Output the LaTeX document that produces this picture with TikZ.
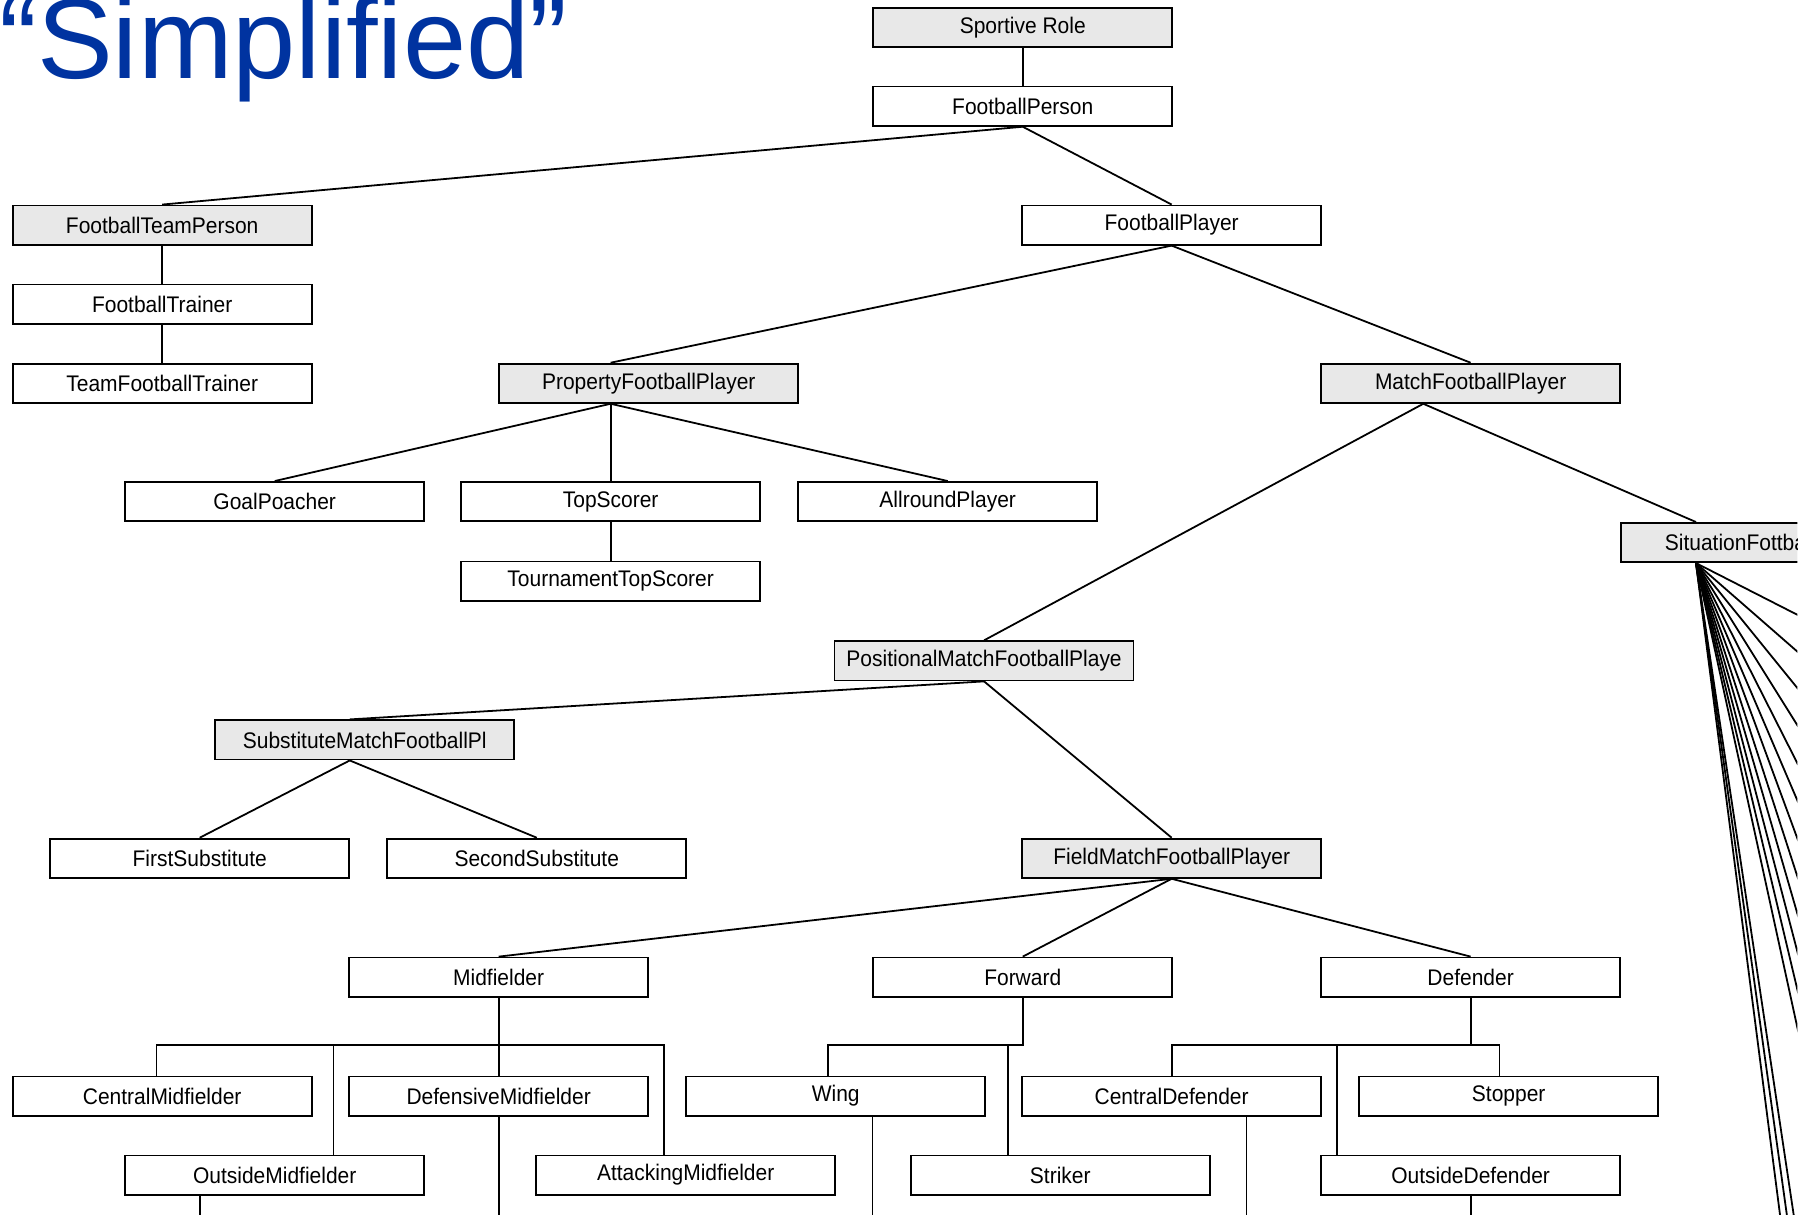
\documentclass[tikz,border=0pt]{standalone}
\usepackage{fontspec}
\setmainfont{Liberation Sans}[FakeStretch=0.93]
\newfontfamily\titlefont{Liberation Sans}
\usetikzlibrary{calc}
\definecolor{titleblue}{RGB}{0,51,160}
\definecolor{boxgray}{RGB}{232,232,232}
\begin{document}
\begin{tikzpicture}[x=0.025cm,y=-0.025cm,
  box/.style={draw=black, line width=1.1pt, minimum width=6.475cm, minimum height=0.85cm,
    inner sep=0pt, fill=white, font=\fontsize{13.9}{16}\selectfont},
  gbox/.style={box, fill=boxgray},
  link/.style={line width=1.1pt},
  thinlink/.style={line width=0.75pt}]
\useasboundingbox (0,0) rectangle (1568,1052);
\begin{scope}
\clip (0,0) rectangle (1557,1052);

% title
\node[anchor=base west, inner sep=0pt, text=titleblue,
  font=\titlefont\fontsize{70}{72}\selectfont] (title) at (-1,68) {“Simplified”};

% class boxes
\node[gbox] (sr)   at (886,24)     {Sportive Role};
\node[box]  (fp)   at (886,92)     {FootballPerson};
\node[gbox] (ftp)  at (140.5,195)  {FootballTeamPerson};
\node[box]  (fpl)  at (1015,195)   {FootballPlayer};
\node[box]  (ftr)  at (140.5,263.5){FootballTrainer};
\node[box]  (tft)  at (140.5,332)  {TeamFootballTrainer};
\node[gbox] (pfp)  at (562,332)    {PropertyFootballPlayer};
\node[gbox] (mfp)  at (1274,332)   {MatchFootballPlayer};
\node[box]  (gp)   at (238,434.5)  {GoalPoacher};
\node[box]  (ts)   at (529,434.5)  {TopScorer};
\node[box]  (ap)   at (821,434.5)  {AllroundPlayer};
\node[box]  (tts)  at (529,503.5)  {TournamentTopScorer};
\node[gbox] (sit)  at (1533.5,470) {};
\node[anchor=west, inner sep=0pt, font=\fontsize{13.9}{16}\selectfont] (sittext) at (1442,470) {SituationFottba};
\node[gbox] (pos)  at (852.5,572.5){PositionalMatchFootballPlaye};
\node[gbox] (sub)  at (316,641)    {SubstituteMatchFootballPl};
\node[box]  (fs)   at (173,743.5)  {FirstSubstitute};
\node[box]  (ss)   at (465,743.5)  {SecondSubstitute};
\node[gbox] (fm)   at (1015,743.5) {FieldMatchFootballPlayer};
\node[box]  (mid)  at (432,846.5)  {Midfielder};
\node[box]  (fw)   at (886,846.5)  {Forward};
\node[box]  (def)  at (1274,846.5) {Defender};
\node[box]  (cm)   at (140.5,949.5){CentralMidfielder};
\node[box]  (dm)   at (432,949.5)  {DefensiveMidfielder};
\node[box]  (wing) at (724,949.5)  {Wing};
\node[box]  (cd)   at (1015,949.5) {CentralDefender};
\node[box]  (stop) at (1307,949.5) {Stopper};
\node[box]  (om)   at (238,1018)   {OutsideMidfielder};
\node[box]  (am)   at (594,1018)   {AttackingMidfielder};
\node[box]  (str)  at (918.5,1018) {Striker};
\node[box]  (od)   at (1274,1018)  {OutsideDefender};

% attachment points that sit off the box centres
\coordinate (pfptop) at (pfp.north -| ts.north);
\coordinate (pfpbot) at (pfp.south -| ts.north);
\coordinate (mfpbot) at ($(mfp.south)+(-41,0)$);
\coordinate (sittop) at ($(sit.north west)+(66,0)$);
\coordinate (sitbot) at ($(sit.south west)+(66,0)$);
\coordinate (subtop) at ($(sub.north)+(-13,0)$);
\coordinate (subbot) at ($(sub.south)+(-13,0)$);

% tree links
\draw[link] (sr.south) -- (fp.north);
\draw[link] (fp.south) -- (ftp.north);
\draw[link] (fp.south) -- (fpl.north);
\draw[link] (ftp.south) -- (ftr.north);
\draw[link] (ftr.south) -- (tft.north);
\draw[link] (fpl.south) -- (pfptop);
\draw[link] (fpl.south) -- (mfp.north);
\draw[link] (pfpbot) -- (gp.north);
\draw[link] (pfpbot) -- (ts.north);
\draw[link] (pfpbot) -- (ap.north);
\draw[link] (ts.south) -- (tts.north);
\draw[link] (mfpbot) -- (pos.north);
\draw[link] (mfpbot) -- (sittop);
\draw[link] (pos.south) -- (subtop);
\draw[link] (pos.south) -- (fm.north);
\draw[link] (subbot) -- (fs.north);
\draw[link] (subbot) -- (ss.north);
\draw[link] (fm.south) -- (mid.north);
\draw[link] (fm.south) -- (fw.north);
\draw[link] (fm.south) -- (def.north);

% orthogonal buses below the position groups
\coordinate (mbus) at (433,905);
\coordinate (fbus) at (886,905);
\coordinate (dbus) at (1275,905);
\coordinate (cmtop)   at ($(cm.north)+(-5,0)$);
\coordinate (omtop)   at ($(om.north)+(51,0)$);
\coordinate (amtop)   at ($(am.north)+(-19,0)$);
\coordinate (wingtop) at ($(wing.north)+(-7,0)$);
\coordinate (strtop)  at ($(str.north)+(-45,0)$);
\coordinate (odtop)   at ($(od.north)+(-116,0)$);
\coordinate (stoptop) at ($(stop.north)+(-8,0)$);

\draw[link] (mid.south) -- (mid.south |- mbus);
\draw[link] (cmtop) |- (mbus) -| (amtop);
\draw[link] (omtop) -- (omtop |- mbus);
\draw[link] (dm.north) -- (dm.north |- mbus);

\draw[link] (fw.south) |- (wingtop |- fbus) -- (wingtop);
\draw[link] (strtop) -- (strtop |- fbus);

\draw[link] (def.south) -- (def.south |- dbus);
\draw[link] (cd.north) |- (dbus) -| (stoptop);
\draw[link] (odtop) -- (odtop |- dbus);

% links running on past the lower edge
\coordinate (edge) at (0,1060);
\coordinate (omb)   at ($(om.south)+(-65,0)$);
\coordinate (wingb) at ($(wing.south)+(32,0)$);
\coordinate (cdb)   at ($(cd.south)+(65,0)$);
\draw[link] (omb) -- (omb |- edge);
\draw[link] (dm.south) -- (dm.south |- edge);
\draw[thinlink] (wingb) -- (wingb |- edge);
\draw[thinlink] (cdb) -- (cdb |- edge);
\draw[link] (od.south) -- (od.south |- edge);

% fan of situation sub-roles, leaving the page on the right and at the foot
\foreach \yy [count=\i] in {554.5,602,649,697,746,794,843,892,940,989,1038,1087}{
  \coordinate (fanr\i) at (1600,\yy);
  \draw[link] (sitbot) -- (fanr\i);
}
\foreach \xx [count=\i] in {1555,1549,1543}{
  \coordinate (fanb\i) at (\xx,1060);
  \draw[link] (sitbot) -- (fanb\i);
}
\end{scope}
\end{tikzpicture}
\end{document}
